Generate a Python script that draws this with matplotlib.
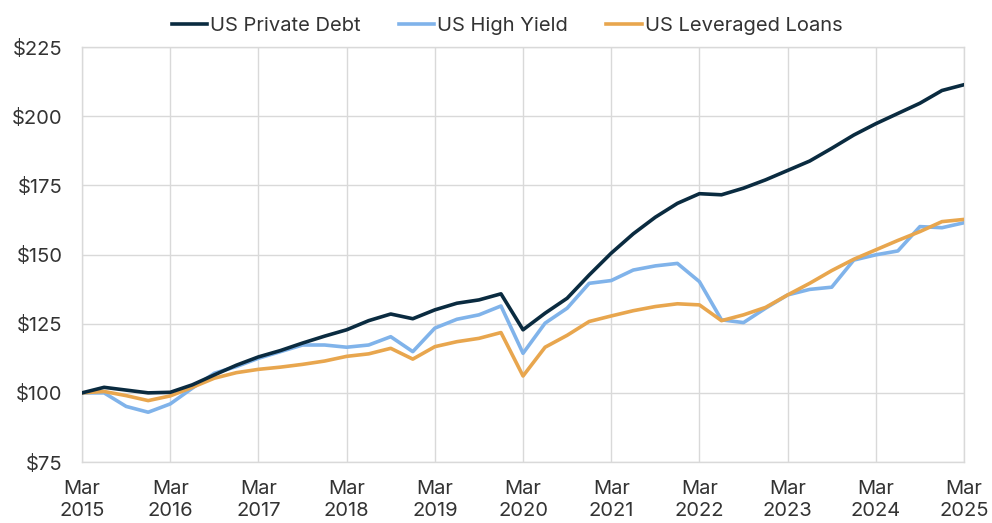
import matplotlib
matplotlib.use("Agg")
from matplotlib import pyplot as plt

# quarterly index values, Mar 2015 = 100
private_debt = [100, 102, 101, 100, 100.2, 102.9, 106.5, 110, 113, 115.3,
                118, 120.5, 122.8, 126.1, 128.5, 126.8, 130, 132.4, 133.6, 135.8,
                122.8, 128.8, 134.2, 142.6, 150.5, 157.5, 163.5, 168.5, 172, 171.6,
                174, 177, 180.4, 183.8, 188.4, 193.2, 197.3, 201, 204.7, 209.3, 211.4]
high_yield = [100, 100, 95.1, 93, 96, 101.7, 107.1, 109.5, 112.5, 114.9,
              117.3, 117.3, 116.5, 117.3, 120.3, 114.9, 123.4, 126.6, 128.2, 131.4,
              114.3, 125.2, 130.6, 139.6, 140.6, 144.4, 145.9, 146.8, 140.2, 126.4,
              125.4, 130.6, 135.4, 137.4, 138.2, 148, 149.9, 151.3, 160.1, 159.7, 161.5]
lev_loans = [100, 100.5, 99, 97.2, 98.9, 102, 105.3, 107.3, 108.5, 109.3,
             110.3, 111.5, 113.2, 114.1, 116.1, 112.2, 116.7, 118.5, 119.7, 121.8,
             106.1, 116.5, 120.8, 125.8, 127.8, 129.7, 131.2, 132.2, 131.8, 126.1,
             128.2, 130.9, 135.4, 139.6, 144.2, 148.3, 151.7, 155.1, 158.3, 161.9, 162.7]
years = list(range(2015, 2026))
x_labels = ["Mar\n%d" % y for y in years]
y_ticks = [75, 100, 125, 150, 175, 200, 225]

plt.rcParams['font.family'] = ['Inter', 'DejaVu Sans']
text_color = '#333333'
grid_color = '#d9d9d9'
fs = 14.5

fig = plt.figure(figsize=(9.92, 5.23), dpi=100)
ax = fig.add_axes([0.0827, 0.1166, 0.8891, 0.7934])

q = list(range(len(private_debt)))
ax.plot(q, private_debt, color='#0a2b40', linewidth=2.6, label='US Private Debt', zorder=5)
ax.plot(q, high_yield, color='#80b3ea', linewidth=2.6, label='US High Yield', zorder=3)
ax.plot(q, lev_loans, color='#e8a64e', linewidth=2.6, label='US Leveraged Loans', zorder=4)

ax.set_xlim(0, 40)
ax.set_ylim(75, 225)
ax.set_xticks(range(0, 41, 4))
ax.set_xticklabels(x_labels, linespacing=1.3)
ax.set_yticks(y_ticks)
ax.set_yticklabels(["$%d" % v for v in y_ticks])
ax.tick_params(axis='both', length=0, labelsize=fs, colors=text_color)
ax.tick_params(axis='x', pad=13)
ax.tick_params(axis='y', pad=14)
ax.grid(True, color=grid_color, linewidth=1.0)
ax.set_axisbelow(True)
for s in ax.spines.values():
    s.set_color(grid_color)
    s.set_linewidth(1.0)

ax.legend(loc='lower center', bbox_to_anchor=(0.482, 1.0), ncol=3, frameon=False,
          fontsize=fs, handlelength=1.75, handletextpad=0.15, columnspacing=1.9,
          labelcolor=text_color, borderaxespad=0.2)

plt.savefig('out.png', dpi=100)
